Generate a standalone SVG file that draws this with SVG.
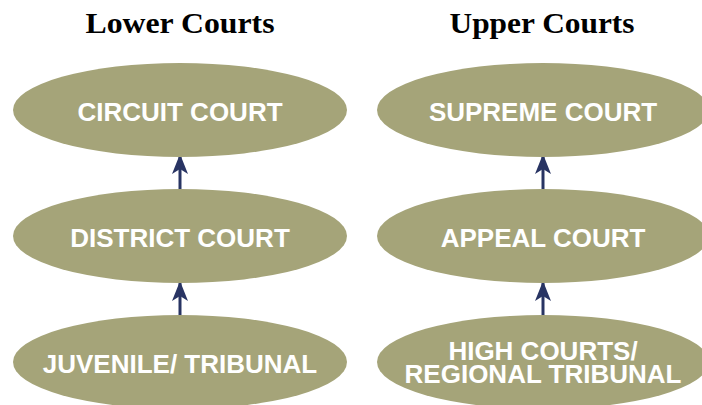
<svg xmlns="http://www.w3.org/2000/svg" width="702" height="405" viewBox="0 0 702 405">
<defs>
<style>
.node ellipse{fill:#a5a479}
.lbl{font-family:"Liberation Sans",Arial,sans-serif;font-weight:bold;font-size:26px;fill:#ffffff;text-anchor:middle}
.title{font-family:"Liberation Serif","Times New Roman",serif;font-weight:bold;font-size:30px;fill:#000;text-anchor:middle}
.edge{stroke:#283463;stroke-width:3;fill:none}
</style>
<marker id="ah" viewBox="0 0 20 16" refX="18" refY="8" markerWidth="20" markerHeight="16" markerUnits="userSpaceOnUse" orient="auto">
<path d="M0,0 L20,8 L0,16 L5,8 Z" fill="#283463"/>
</marker>
</defs>
<rect width="702" height="405" fill="#ffffff"/>
<text class="title" x="180" y="33" textLength="189" lengthAdjust="spacingAndGlyphs">Lower Courts</text>
<text class="title" x="542" y="33" textLength="185" lengthAdjust="spacingAndGlyphs">Upper Courts</text>
<g id="connectors">
<line class="edge" x1="180" y1="190" x2="180" y2="156" marker-end="url(#ah)"/>
<line class="edge" x1="180" y1="316" x2="180" y2="283" marker-end="url(#ah)"/>
<line class="edge" x1="543" y1="190" x2="543" y2="156" marker-end="url(#ah)"/>
<line class="edge" x1="543" y1="316" x2="543" y2="283" marker-end="url(#ah)"/>
</g>
<g id="circuit" class="node"><ellipse cx="180" cy="110" rx="167" ry="47"/><text class="lbl" x="180" y="121">CIRCUIT COURT</text></g>
<g id="district" class="node"><ellipse cx="180" cy="236" rx="167" ry="47"/><text class="lbl" x="180" y="247">DISTRICT COURT</text></g>
<g id="juvenile" class="node"><ellipse cx="180" cy="362" rx="167" ry="47"/><text class="lbl" x="180" y="373">JUVENILE/ TRIBUNAL</text></g>
<g id="supreme" class="node"><ellipse cx="543" cy="110" rx="166" ry="47"/><text class="lbl" x="543" y="121">SUPREME COURT</text></g>
<g id="appeal" class="node"><ellipse cx="543" cy="236" rx="166" ry="47"/><text class="lbl" x="543" y="247">APPEAL COURT</text></g>
<g id="high" class="node"><ellipse cx="543" cy="362" rx="166" ry="47"/><text class="lbl" x="543" y="360">HIGH COURTS/</text><text class="lbl" x="543" y="383">REGIONAL TRIBUNAL</text></g>
</svg>
